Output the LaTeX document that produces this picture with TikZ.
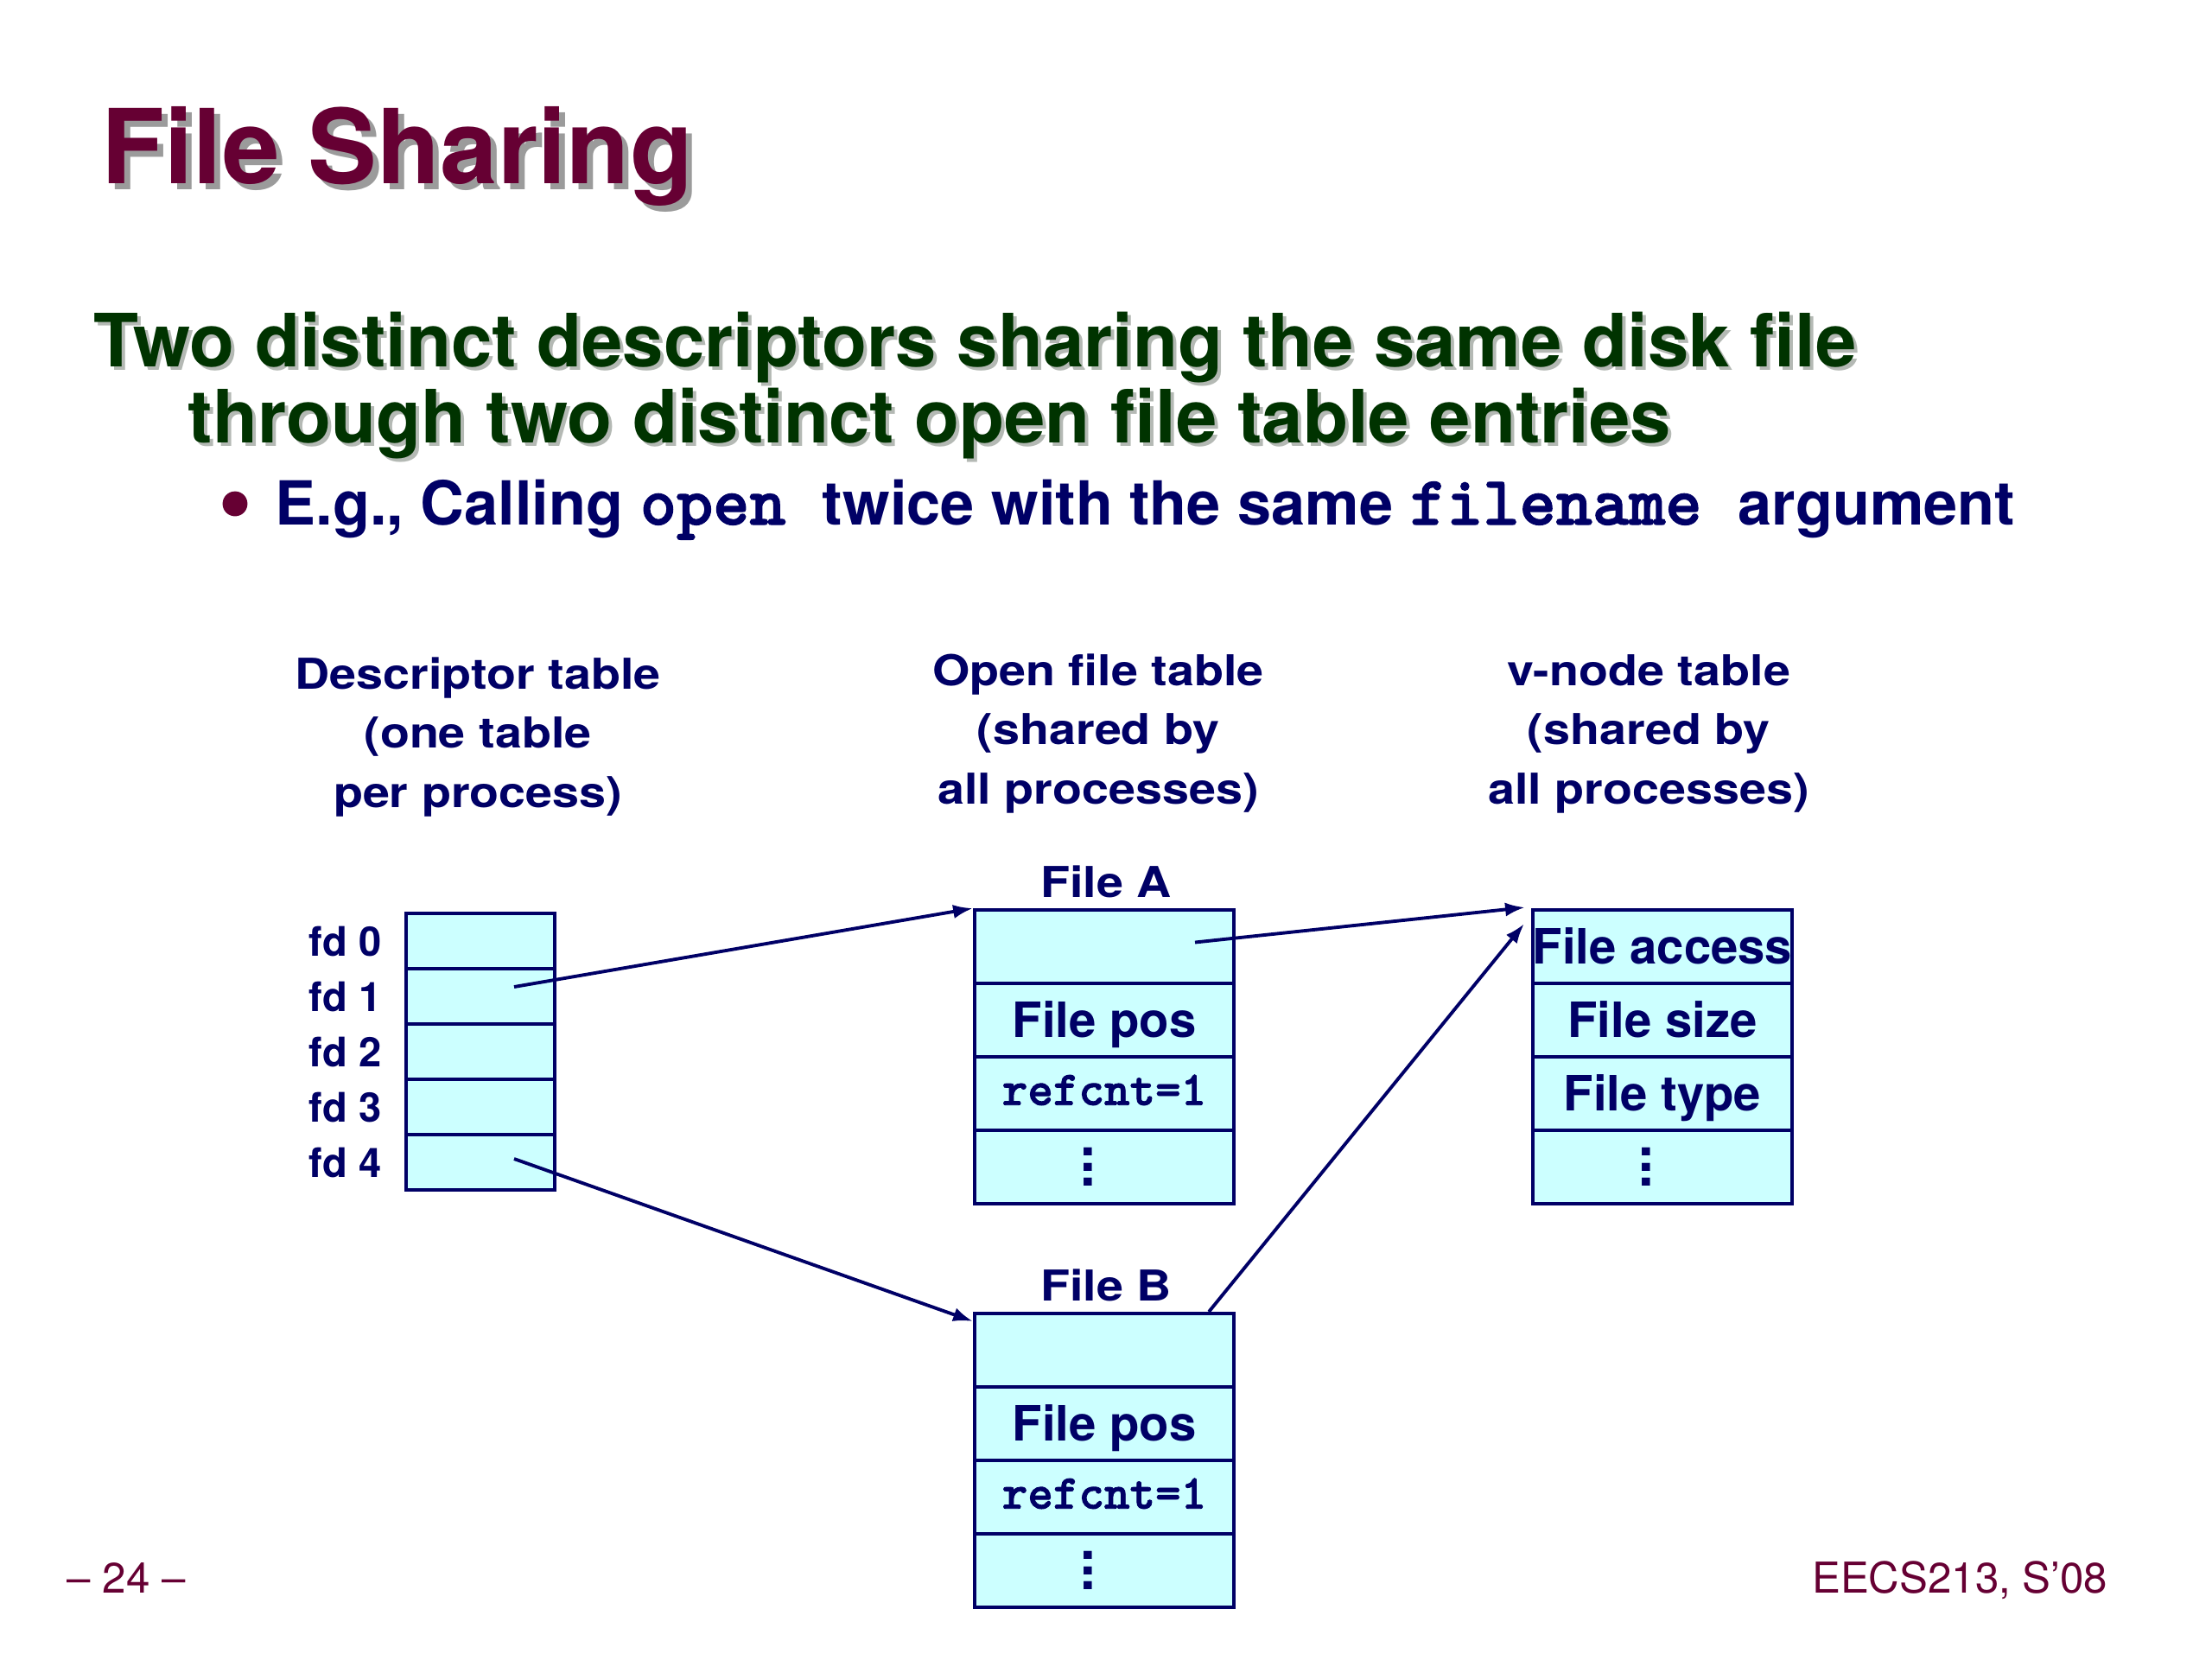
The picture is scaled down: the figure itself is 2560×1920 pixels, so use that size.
\documentclass[tikz,border=0pt]{standalone}
\usepackage{fontspec}
\setmainfont{TeX Gyre Heros}
\newfontfamily\monof{lmmonolt10-bold}[Extension=.otf, Scale=1.143, FakeBold=1.6]
\usetikzlibrary{arrows.meta,calc}
\definecolor{navy}{RGB}{0,0,102}
\definecolor{maroon}{RGB}{102,0,51}
\definecolor{dgreen}{RGB}{0,51,0}
\definecolor{cyanfill}{RGB}{204,255,255}
\definecolor{shadowgray}{RGB}{155,155,155}
\definecolor{lightshadow}{RGB}{180,185,180}
\newcommand\hstr[1]{\scalebox{1.13}[1]{#1}}
\newcommand\vdotsx{\vbox{\fontsize{18pt}{20pt}\selectfont\baselineskip=5pt\lineskiplimit=-20pt\hbox{.}\hbox{.}\hbox{.}}}
\begin{document}
\begin{tikzpicture}[x=0.01cm,y=-0.01cm,
  titletext/.style={inner sep=0, text=maroon, font=\fontsize{34pt}{40pt}\selectfont\bfseries},
  titleshadow/.style={titletext, text=shadowgray},
  gtext/.style={inner sep=0, text=dgreen, font=\fontsize{24.2pt}{29pt}\selectfont\bfseries},
  gshadow/.style={gtext, text=lightshadow},
  btext/.style={inner sep=0, text=navy, font=\fontsize{20pt}{24pt}\selectfont\bfseries},
  head/.style={inner sep=0, text=navy, font=\fontsize{14pt}{19.6pt}\selectfont\bfseries},
  fdlbl/.style={inner sep=0, text=navy, font=\fontsize{13.4pt}{16pt}\selectfont\bfseries},
  boxrow/.style={draw=navy, fill=cyanfill, line width=1.1pt, minimum width=3cm, minimum height=0.85cm, inner sep=0, text=navy, font=\fontsize{16pt}{19pt}\selectfont\bfseries},
  cell/.style={boxrow, text height=11.5pt, text depth=0pt},
  monocell/.style={boxrow, font=\fontsize{14pt}{17pt}\selectfont\monof, text height=7.5pt, text depth=0pt},
  fdcell/.style={draw=navy, fill=cyanfill, line width=1.1pt, minimum width=1.72cm, minimum height=0.64cm, inner sep=0},
  link/.style={draw=navy, line width=1.1pt, -{Latex[length=6.5pt,width=4.6pt]}},
  foot/.style={inner sep=0, text=maroon, font=\fontsize{14pt}{17pt}\selectfont}
]
\useasboundingbox (0,0) rectangle (2560,1920);
\fill[white] (0,0) rectangle (2560,1920);

% title
\node[titleshadow, anchor=base west] (titleS) at (124,219) {File Sharing};
\node[titletext, anchor=base west] (title) at (117,212) {File Sharing};

% green lines
\node[gshadow, anchor=base west] (l1s) at (112,428) {Two distinct descriptors sharing the same disk file};
\node[gtext, anchor=base west] (l1) at (108,424) {Two distinct descriptors sharing the same disk file};
\node[gshadow, anchor=base west] (l2s) at (221,516) {through two distinct open file table entries};
\node[gtext, anchor=base west] (l2) at (217,512) {through two distinct open file table entries};

% bullet
\node[circle, fill=maroon, minimum size=8.2pt, inner sep=0] (bul) at (272,583) {};
\node[btext, anchor=base west] (bt) at (318,607) {E.g., Calling {\monof open }twice with the same {\monof filename }argument};

% headings
\node[head, anchor=base] (hd) at (553,797) {\hstr{\begin{tabular}[t]{@{}c@{}}Descriptor table\\(one table\\per process)\end{tabular}}};
\node[head, anchor=base] (ho) at (1271,793) {\hstr{\begin{tabular}[t]{@{}c@{}}Open file table\\(shared by\\all processes)\end{tabular}}};
\node[head, anchor=base] (hv) at (1908,793) {\hstr{\begin{tabular}[t]{@{}c@{}}v-node table\\(shared by\\all processes)\end{tabular}}};

% descriptor table
\node[fdcell] (D0) at (556,1089) {};
\node[fdcell] (D1) at (556,1153) {};
\node[fdcell] (D2) at (556,1217) {};
\node[fdcell] (D3) at (556,1281) {};
\node[fdcell] (D4) at (556,1345) {};
\node[fdlbl, anchor=base east] (f0) at (442,1106) {fd 0};
\node[fdlbl, anchor=base east] (f1) at (442,1170) {fd 1};
\node[fdlbl, anchor=base east] (f2) at (442,1234) {fd 2};
\node[fdlbl, anchor=base east] (f3) at (442,1298) {fd 3};
\node[fdlbl, anchor=base east] (f4) at (442,1362) {fd 4};

% File A
\node[head, anchor=base] (fa) at (1280,1038) {\hstr{File A}};
\node[cell] (A1) at (1278,1095.5) {};
\node[cell] (A2) at (1278,1180.5) {File pos};
\node[monocell] (A3) at (1278,1265.5) {refcnt=1};
\node[boxrow] (A4) at (1278,1350.5) {\kern-10.5pt\vdotsx};

% File B
\node[head, anchor=base] (fb) at (1280,1505) {\hstr{File B}};
\node[cell] (B1) at (1278,1562.5) {};
\node[cell] (B2) at (1278,1647.5) {File pos};
\node[monocell] (B3) at (1278,1732.5) {refcnt=1};
\node[boxrow] (B4) at (1278,1817.5) {\kern-10.5pt\vdotsx};

% v-node table
\node[cell] (V1) at (1924,1095.5) {File access};
\node[cell] (V2) at (1924,1180.5) {File size};
\node[cell] (V3) at (1924,1265.5) {File type};
\node[boxrow] (V4) at (1924,1350.5) {\kern-10.5pt\vdotsx};

% connectors
\coordinate (s1) at ($(D1.center)+(39,-11)$);
\coordinate (s4) at ($(D4.center)+(39,-4)$);
\coordinate (sa) at ($(A1.center)+(105,-5)$);
\coordinate (sb) at ($(B1.north)+(121,0)$);
\coordinate (tb) at ($(B1.north west)+(0,11)$);
\coordinate (va) at ($(V1.north west)+(-7,-1)$);
\coordinate (vb) at ($(V1.north west)+(-8,18)$);
\draw[link] (s1) -- (A1.north west);
\draw[link] (s4) -- (tb);
\draw[link] (sa) -- (va);
\draw[link] (sb) -- (vb);

% footer
\node[foot, anchor=base west] (pg) at (77,1843) {-- 24 --};
\node[foot, anchor=base east] (course) at (2440,1843) {EECS213, S'08};
\end{tikzpicture}
\end{document}
